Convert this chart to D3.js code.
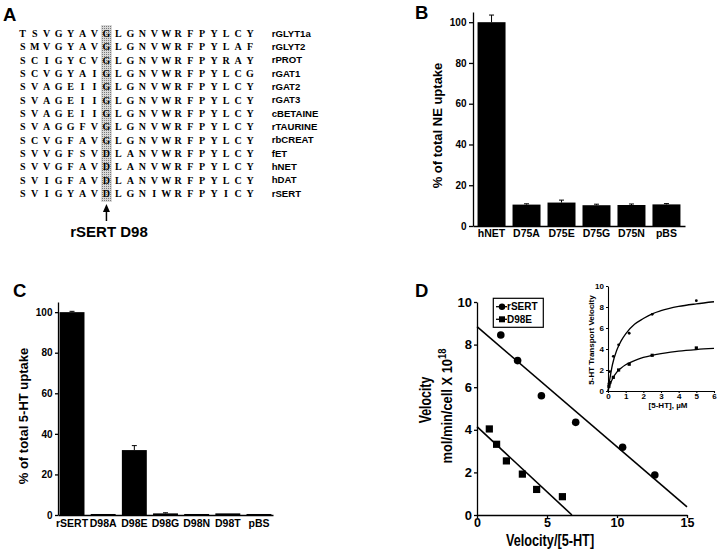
<!DOCTYPE html>
<meta charset="utf-8">
<style>
body{margin:0;background:#fff;}
svg{display:block;font-family:"Liberation Sans",Arial,sans-serif;font-weight:bold;}
.axis path,.axis line{stroke:#000;stroke-width:1.3;}
.axis text{font-family:"Liberation Sans",Arial,sans-serif;font-weight:bold;fill:#000;}
.seq{font-family:"Liberation Serif",serif;font-size:10px;font-weight:bold;}
</style>
<body>
<svg width="720" height="550" id="fig"></svg>
<script src="https://cdn.jsdelivr.net/npm/d3@7"></script>
<script>
// A: alignment
var seqNames = ["rGLYT1a","rGLYT2","rPROT","rGAT1","rGAT2","rGAT3","cBETAINE","rTAURINE","rbCREAT","fET","hNET","hDAT","rSERT"];
var seqs = [
  "TSVGYAVGLGNVWRFPYLCY",
  "SMVGYAVGLGNVWRFPYLAF",
  "SCIGYCVGLGNVWRFPYRAY",
  "SCVGYAIGLGNVWRFPYLCG",
  "SVAGEIIGLGNVWRFPYLCY",
  "SVAGEIIGLGNVWRFPYLCY",
  "SVAGEIIGLGNVWRFPYLCY",
  "SVAGGFVGLGNVWRFPYLCY",
  "SCVGFAVGLGNVWRFPYLCY",
  "SVVGFSVDLANVWRFPYLCY",
  "SVVGFAVDLANVWRFPYLCY",
  "SVIGFAVDLANVWRFPYLCY",
  "SVIGYAVDLGNIWRFPYICY"];
var markedCol = 7;

// B: NE uptake
var neCats = ["hNET","D75A","D75E","D75G","D75N","pBS"];
var neVals = [100,10.5,11.5,10.2,10.3,10.6];
var neErrs = [3.5,0.4,1.2,0.5,0.5,0.4];

// C: 5-HT uptake
var htCats = ["rSERT","D98A","D98E","D98G","D98N","D98T","pBS"];
var htVals = [100,0.5,32,0.8,0.5,0.8,0.5];
var htErrs = [0.4,0,2.2,0.3,0,0,0];
var pctTicks = [0,20,40,60,80,100];

// D: Eadie-Hofstee
var sertEH = [[1.7,8.45],[2.9,7.25],[4.6,5.6],[7.05,4.35],[10.4,3.18],[12.7,1.88]];
var d98eEH = [[0.88,4.04],[1.4,3.32],[2.1,2.54],[3.24,1.92],[4.26,1.2],[6.1,0.86]];
var sertFit = [[0,8.84],[15,0.38]];
var d98eFit = [[0,4.15],[6.78,0]];
var ehXTicks = [0,5,10,15];
var ehYTicks = [0,2,4,6,8,10];

// D inset: saturation
var sertSat = [[0.05,0.7],[0.1,1.85],[0.3,3.3],[0.6,4.4],[1.2,5.5],[2.5,7.3],[5,8.6]];
var d98eSat = [[0.05,0.45],[0.1,0.8],[0.3,1.3],[0.6,2.0],[1.2,2.55],[2.5,3.4],[5,4.1]];
var sertCurve = [[0,0],[0.1,1.1],[0.25,2.5],[0.5,3.9],[0.75,4.8],[1,5.45],[1.5,6.35],[2,6.9],[2.5,7.35],[3,7.65],[4,8.05],[5,8.3],[6,8.5]];
var d98eCurve = [[0,0],[0.1,0.55],[0.25,1.15],[0.5,1.8],[0.75,2.2],[1,2.5],[1.5,2.9],[2,3.2],[2.5,3.4],[3,3.55],[4,3.8],[5,3.95],[6,4.05]];
var insetXTicks = [0,1,2,3,4,5,6];
var insetYTicks = [0,2,4,6,8,10];

var svg = d3.select("#fig");
svg.append("rect").attr("width",720).attr("height",550).attr("fill","#fff");

function panelLetter(t,x,y){
  svg.append("text").attr("x",x).attr("y",y).attr("font-size",18.5).text(t);
}

// ---- panel A
var defs = svg.append("defs");
var pat = defs.append("pattern").attr("id","dots").attr("width",2).attr("height",2)
  .attr("patternUnits","userSpaceOnUse");
pat.append("rect").attr("width",2).attr("height",2).attr("fill","#d8d8d8");
pat.append("rect").attr("width",1).attr("height",1).attr("fill","#7a7a7a");

var colX = d3.scaleLinear().domain([0,19]).range([22.7,250]);
var rowY = d3.scaleLinear().domain([0,seqs.length-1]).range([33.3,193.3]);
var gA = svg.append("g");
gA.append("rect").attr("x",colX(markedCol)-5.5).attr("y",25).attr("width",11).attr("height",177)
  .attr("fill","url(#dots)");
var rows = gA.selectAll("g.row").data(seqs).enter().append("g").attr("class","row")
  .attr("transform",function(d,i){return "translate(0,"+rowY(i)+")";});
rows.selectAll("text").data(function(d){return d.split("");}).enter().append("text")
  .attr("class","seq")
  .attr("x",function(d,i){return colX(i);})
  .attr("dy","0.36em")
  .attr("text-anchor","middle")
  .text(function(d){return d;});
gA.selectAll("text.name").data(seqNames).enter().append("text").attr("class","name")
  .attr("x",271.7).attr("y",function(d,i){return rowY(i);}).attr("dy","0.36em")
  .attr("font-size",9.6).text(function(d){return d;});
var ax = colX(markedCol);
gA.append("line").attr("x1",ax).attr("x2",ax).attr("y1",210).attr("y2",221).attr("stroke","#000").attr("stroke-width",1.5);
gA.append("path").attr("d","M"+ax+",204L"+(ax-3.5)+",212L"+(ax+3.5)+",212Z").attr("fill","#000");
gA.append("text").attr("x",109).attr("y",237).attr("text-anchor","middle").attr("font-size",15).text("rSERT D98");
panelLetter("A",3,21);

// ---- bar panels B and C
function barPanel(cats, vals, errs, b){
  var x = d3.scaleBand().domain(cats).range([b.x0,b.x1]).paddingInner(b.pi).paddingOuter(b.po);
  var y = d3.scaleLinear().domain([0,105]).range([b.y0,b.yTop]);
  var g = svg.append("g");
  g.selectAll("rect.bar").data(cats).enter().append("rect").attr("class","bar")
    .attr("x",function(d){return x(d);})
    .attr("width",x.bandwidth())
    .attr("y",function(d,i){return y(vals[i]);})
    .attr("height",function(d,i){return b.y0 - y(vals[i]);})
    .attr("fill","#000");
  var eb = g.selectAll("g.err").data(cats.filter(function(d,i){return errs[i]>0;})).enter().append("g");
  eb.append("line")
    .attr("x1",function(d){return x(d)+x.bandwidth()/2;}).attr("x2",function(d){return x(d)+x.bandwidth()/2;})
    .attr("y1",function(d){var i=cats.indexOf(d);return y(vals[i]);})
    .attr("y2",function(d){var i=cats.indexOf(d);return y(vals[i]+errs[i]);})
    .attr("stroke","#000").attr("stroke-width",1);
  eb.append("line")
    .attr("x1",function(d){return x(d)+x.bandwidth()/2-2.5;}).attr("x2",function(d){return x(d)+x.bandwidth()/2+2.5;})
    .attr("y1",function(d){var i=cats.indexOf(d);return y(vals[i]+errs[i]);})
    .attr("y2",function(d){var i=cats.indexOf(d);return y(vals[i]+errs[i]);})
    .attr("stroke","#000").attr("stroke-width",1);
  var xa = g.append("g").attr("class","axis").attr("transform","translate(0,"+b.y0+")")
    .call(d3.axisBottom(x).tickSize(0).tickSizeOuter(0).tickPadding(b.xpad));
  xa.selectAll("text").style("font-size",b.xfs+"px");
  var ya = g.append("g").attr("class","axis").attr("transform","translate("+b.x0+",0)")
    .call(d3.axisLeft(y).tickValues(pctTicks).tickSize(b.tick).tickSizeOuter(0).tickPadding(2.5));
  ya.selectAll("text").style("font-size",b.yfs+"px");
  g.append("text").attr("transform","translate("+b.lx+","+b.ly+") rotate(-90)")
    .attr("text-anchor","middle").attr("font-size",13).text(b.title);
}

barPanel(neCats, neVals, neErrs, {x0:473,x1:685,y0:226,yTop:12,pi:0.2,po:0.13,xpad:4,xfs:10.5,yfs:10,tick:4,
  lx:441.5,ly:125.5,title:"% of total NE uptake"});
panelLetter("B",415,18.5);

barPanel(htCats, htVals, htErrs, {x0:58,x1:273,y0:515,yTop:302,pi:0.2,po:0.05,xpad:5,xfs:10.5,yfs:10,tick:3,
  lx:28,ly:416,title:"% of total 5-HT uptake"});
panelLetter("C",13,297);

// ---- panel D
var gD = svg.append("g");
var ex = d3.scaleLinear().domain([0,15]).range([477,687]);
var ey = d3.scaleLinear().domain([0,10]).range([515,302]);
var fitLine = d3.line().x(function(d){return ex(d[0]);}).y(function(d){return ey(d[1]);});
gD.append("path").attr("d",fitLine(sertFit)).attr("stroke","#000").attr("stroke-width",1.6).attr("fill","none");
gD.append("path").attr("d",fitLine(d98eFit)).attr("stroke","#000").attr("stroke-width",1.6).attr("fill","none");
gD.selectAll("circle.s").data(sertEH).enter().append("circle").attr("class","s")
  .attr("cx",function(d){return ex(d[0]);}).attr("cy",function(d){return ey(d[1]);}).attr("r",3.8);
gD.selectAll("rect.q").data(d98eEH).enter().append("rect").attr("class","q")
  .attr("x",function(d){return ex(d[0])-3.6;}).attr("y",function(d){return ey(d[1])-3.6;})
  .attr("width",7.2).attr("height",7.2);
var dxa = gD.append("g").attr("class","axis").attr("transform","translate(0,515)")
  .call(d3.axisBottom(ex).tickValues(ehXTicks).tickSize(3).tickSizeOuter(0).tickPadding(0.5));
dxa.selectAll("text").style("font-size","12.5px");
var dya = gD.append("g").attr("class","axis").attr("transform","translate(477,0)")
  .call(d3.axisLeft(ey).tickValues(ehYTicks).tickSize(3).tickSizeOuter(0).tickPadding(2));
dya.selectAll("text").style("font-size","13px");
gD.append("text").attr("transform","translate(550,546) scale(0.77,1)").attr("text-anchor","middle")
  .attr("font-size",16.5).text("Velocity/[5-HT]");
gD.append("text").attr("transform","translate(431,400) rotate(-90) scale(0.77,1)").attr("text-anchor","middle")
  .attr("font-size",16).text("Velocity");
var ml = gD.append("text").attr("transform","translate(452,406) rotate(-90) scale(0.86,1)").attr("text-anchor","middle")
  .attr("font-size",15);
ml.append("tspan").text("mol/min/cell X 10");
ml.append("tspan").attr("dy",-6).attr("font-size",11).text("18");

// legend
var lg = gD.append("g");
lg.append("rect").attr("x",493.3).attr("y",298.3).attr("width",50).attr("height",29)
  .attr("fill","#fff").attr("stroke","#000").attr("stroke-width",1.2);
[["rSERT",306.7],["D98E",319.3]].forEach(function(e,i){
  lg.append("line").attr("x1",496).attr("x2",507).attr("y1",e[1]).attr("y2",e[1]).attr("stroke","#000").attr("stroke-width",1.3);
  if(i==0) lg.append("circle").attr("cx",502).attr("cy",e[1]).attr("r",3.2);
  else lg.append("rect").attr("x",499).attr("y",e[1]-3).attr("width",6).attr("height",6);
  lg.append("text").attr("x",507).attr("y",e[1]).attr("dy","0.36em").attr("font-size",10).text(e[0]);
});
panelLetter("D",415,297);

// inset
var gI = svg.append("g");
var ix = d3.scaleLinear().domain([0,6]).range([608,714]);
var iy = d3.scaleLinear().domain([0,10]).range([391,286]);
var curve = d3.line().curve(d3.curveMonotoneX).x(function(d){return ix(d[0]);}).y(function(d){return iy(d[1]);});
gI.append("path").attr("d",curve(sertCurve)).attr("stroke","#000").attr("stroke-width",1.3).attr("fill","none");
gI.append("path").attr("d",curve(d98eCurve)).attr("stroke","#000").attr("stroke-width",1.3).attr("fill","none");
gI.selectAll("circle").data(sertSat).enter().append("circle")
  .attr("cx",function(d){return ix(d[0]);}).attr("cy",function(d){return iy(d[1]);}).attr("r",1.4);
gI.selectAll("rect").data(d98eSat).enter().append("rect")
  .attr("x",function(d){return ix(d[0])-1.6;}).attr("y",function(d){return iy(d[1])-1.6;})
  .attr("width",3.2).attr("height",3.2);
var ixa = gI.append("g").attr("class","axis").attr("transform","translate(0,391)")
  .call(d3.axisBottom(ix).tickValues(insetXTicks).tickFormat(d3.format("d")).tickSize(2).tickSizeOuter(0).tickPadding(0.5));
ixa.selectAll("text").style("font-size","8px");
var iya = gI.append("g").attr("class","axis").attr("transform","translate(608,0)")
  .call(d3.axisLeft(iy).tickValues(insetYTicks).tickFormat(d3.format("d")).tickSize(2).tickSizeOuter(0).tickPadding(2));
iya.selectAll("text").style("font-size","8px");
gI.selectAll(".axis path, .axis line").style("stroke-width",1.1);
gI.append("text").attr("x",668).attr("y",408).attr("text-anchor","middle").attr("font-size",8).text("[5-HT], \u00b5M");
gI.append("text").attr("transform","translate(594,340) rotate(-90)").attr("text-anchor","middle")
  .attr("font-size",8).text("5-HT Transport Velocity");
</script>
</body>
